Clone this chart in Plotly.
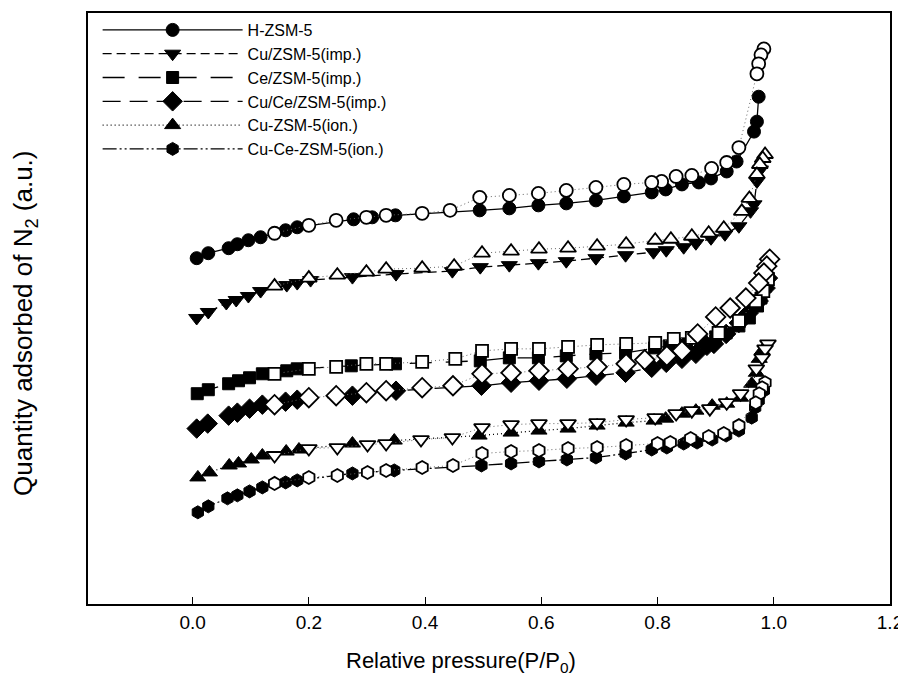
import plotly.graph_objects as go

# ---- data (relative pressure, quantity adsorbed in a.u.) ----
names = ["H-ZSM-5", "Cu/ZSM-5(imp.)", "Ce/ZSM-5(imp.)", "Cu/Ce/ZSM-5(imp.)",
         "Cu-ZSM-5(ion.)", "Cu-Ce-ZSM-5(ion.)"]

h_ads_x = [0.007, 0.027, 0.062, 0.077, 0.096, 0.117, 0.16, 0.18, 0.277, 0.309, 0.349, 0.494, 0.545, 0.595,
           0.643, 0.694, 0.742, 0.79, 0.814, 0.842, 0.871, 0.892, 0.919, 0.936, 0.966, 0.971, 0.974]
h_ads_y = [347, 352, 357, 361, 365, 368, 375, 378, 386, 388, 390, 395, 397, 400, 402, 405, 409, 413, 416,
           421, 423, 427, 434, 444, 474, 484, 509]
h_des_x = [0.983, 0.978, 0.974, 0.971, 0.94, 0.919, 0.893, 0.859, 0.832, 0.807, 0.79, 0.742, 0.694, 0.643,
           0.595, 0.545, 0.494, 0.443, 0.395, 0.333, 0.299, 0.247, 0.2, 0.141]
h_des_y = [557, 551, 542, 532, 458, 443, 437, 430, 429, 424, 423, 421, 418, 415, 412, 410, 408, 395, 392,
           390, 388, 385, 380, 372]

cu_ads_x = [0.007, 0.027, 0.058, 0.075, 0.096, 0.117, 0.162, 0.18, 0.203, 0.275, 0.35, 0.447, 0.495, 0.545,
            0.595, 0.643, 0.694, 0.745, 0.793, 0.815, 0.845, 0.866, 0.892, 0.916, 0.94, 0.96, 0.966, 0.971, 0.977]
cu_ads_y = [287, 293, 302, 305, 309, 314, 320, 322, 325, 328, 331, 334, 338, 340, 342, 344, 347, 350, 353,
            355, 358, 362, 367, 371, 379, 394, 401, 424, 436]
cu_des_x = [0.985, 0.981, 0.976, 0.971, 0.958, 0.945, 0.914, 0.888, 0.859, 0.823, 0.796, 0.746, 0.696, 0.646,
            0.596, 0.548, 0.498, 0.45, 0.395, 0.333, 0.299, 0.249, 0.2, 0.141]
cu_des_y = [451, 447, 441, 431, 407, 394, 377, 372, 369, 366, 365, 361, 359, 357, 356, 354, 352, 339, 337,
            336, 333, 330, 327, 319]

ce_ads_x = [0.008, 0.027, 0.062, 0.079, 0.098, 0.12, 0.162, 0.18, 0.273, 0.349, 0.495, 0.545, 0.595, 0.643,
            0.694, 0.745, 0.795, 0.82, 0.85, 0.875, 0.9, 0.918, 0.94, 0.958, 0.972, 0.978, 0.986]
ce_ads_y = [211, 215, 221, 224, 227, 231, 234, 236, 239, 241, 244, 247, 247, 249, 251, 252, 257, 259, 261,
            264, 268, 272, 279, 287, 299, 307, 319]
ce_des_x = [0.99, 0.982, 0.969, 0.94, 0.905, 0.859, 0.828, 0.796, 0.746, 0.696, 0.646, 0.596, 0.548, 0.498,
            0.452, 0.395, 0.333, 0.299, 0.247, 0.2, 0.141]
ce_des_y = [326, 314, 304, 284, 272, 267, 266, 262, 261, 260, 258, 256, 256, 254, 246, 243, 241, 241, 238,
            236, 231]

cuce_ads_x = [0.007, 0.026, 0.062, 0.077, 0.098, 0.12, 0.16, 0.18, 0.275, 0.35, 0.497, 0.548, 0.596, 0.644,
              0.694, 0.745, 0.79, 0.815, 0.842, 0.866, 0.885, 0.897, 0.918, 0.94, 0.957, 0.974, 0.986, 0.99]
cuce_ads_y = [176, 181, 189, 192, 196, 200, 203, 205, 209, 214, 219, 222, 224, 226, 229, 232, 237, 242, 246,
              251, 259, 261, 271, 282, 292, 304, 317, 327]
cuce_des_x = [0.993, 0.988, 0.983, 0.974, 0.952, 0.925, 0.9, 0.869, 0.842, 0.816, 0.778, 0.746, 0.696, 0.646,
              0.596, 0.548, 0.498, 0.448, 0.395, 0.333, 0.299, 0.247, 0.2, 0.141]
cuce_des_y = [346, 339, 332, 322, 307, 297, 288, 271, 254, 249, 245, 241, 238, 236, 234, 232, 231, 219, 217,
              214, 212, 209, 207, 200]

cuion_ads_x = [0.009, 0.029, 0.063, 0.079, 0.101, 0.12, 0.161, 0.183, 0.275, 0.347, 0.493, 0.548, 0.596, 0.646,
               0.696, 0.746, 0.794, 0.814, 0.842, 0.866, 0.894, 0.919, 0.943, 0.962, 0.97, 0.975, 0.98]
cuion_ads_y = [127, 132, 139, 141, 145, 149, 153, 155, 161, 164, 169, 172, 174, 176, 179, 182, 184, 186, 191,
               194, 199, 201, 207, 221, 232, 246, 254]
cuion_des_x = [0.99, 0.985, 0.98, 0.97, 0.943, 0.919, 0.89, 0.859, 0.832, 0.796, 0.746, 0.696, 0.646, 0.596,
               0.548, 0.498, 0.447, 0.393, 0.333, 0.301, 0.249, 0.2, 0.141]
cuion_des_y = [261, 256, 247, 236, 211, 202, 196, 194, 191, 187, 185, 182, 181, 181, 180, 177, 167, 165, 161,
               160, 157, 156, 149]

cuceion_ads_x = [0.009, 0.027, 0.06, 0.077, 0.098, 0.12, 0.16, 0.18, 0.275, 0.347, 0.497, 0.548, 0.596, 0.644,
                 0.694, 0.745, 0.79, 0.816, 0.845, 0.868, 0.894, 0.918, 0.94, 0.962, 0.968, 0.974, 0.983]
cuceion_ads_y = [92, 98, 106, 109, 113, 117, 122, 124, 131, 134, 139, 141, 143, 145, 147, 151, 155, 157, 161,
                 162, 165, 169, 174, 187, 197, 204, 214]
cuceion_des_x = [0.985, 0.98, 0.975, 0.969, 0.94, 0.914, 0.888, 0.857, 0.822, 0.8, 0.746, 0.696, 0.646, 0.596,
                 0.548, 0.498, 0.448, 0.395, 0.333, 0.301, 0.249, 0.2, 0.141]
cuceion_des_y = [222, 217, 211, 202, 179, 171, 168, 166, 162, 161, 159, 157, 156, 154, 153, 151, 139, 137, 134,
                 132, 129, 127, 121]

x_ticks = [0.0, 0.2, 0.4, 0.6, 0.8, 1.0, 1.2]
x_title = "Relative pressure(P/P<sub>0</sub>)"
y_title = "Quantity adsorbed of N<sub>2</sub> (a.u.)"

series = [
    (names[0], h_ads_x, h_ads_y, h_des_x, h_des_y, "circle", "circle", "solid"),
    (names[1], cu_ads_x, cu_ads_y, cu_des_x, cu_des_y, "triangle-down", "triangle-up", "9px,5px"),
    (names[2], ce_ads_x, ce_ads_y, ce_des_x, ce_des_y, "square", "square", "22px,14px"),
    (names[3], cuce_ads_x, cuce_ads_y, cuce_des_x, cuce_des_y, "diamond", "diamond", "18px,9px"),
    (names[4], cuion_ads_x, cuion_ads_y, cuion_des_x, cuion_des_y, "triangle-up", "triangle-down", "1px,3px"),
    (names[5], cuceion_ads_x, cuceion_ads_y, cuceion_des_x, cuceion_des_y, "hexagon", "hexagon",
     "14px,3px,2px,3px,2px,3px"),
]

sizes = {"circle": 13, "triangle-down": 14, "triangle-up": 14, "square": 12, "diamond": 15, "hexagon": 13}

fig = go.Figure()
for name, ax, ay, dx, dy, sym_a, sym_d, dash in series:
    fig.add_trace(go.Scatter(
        x=ax, y=ay, name=name, mode="lines+markers",
        line=dict(color="black", width=1.3, dash=dash),
        marker=dict(symbol=sym_a, size=sizes[sym_a], color="black", line=dict(color="black", width=1)),
    ))
for name, ax, ay, dx, dy, sym_a, sym_d, dash in series:
    fig.add_trace(go.Scatter(
        x=dx, y=dy, name=name + " desorption", mode="lines+markers", showlegend=False,
        line=dict(color="#666666", width=1, dash="1px,3px"),
        marker=dict(symbol=sym_d, size=sizes[sym_d], color="white", line=dict(color="black", width=1.8)),
    ))

fig.update_layout(
    width=898, height=671,
    margin=dict(l=80, r=16, t=3, b=75),
    paper_bgcolor="white", plot_bgcolor="white",
    font=dict(family="Liberation Sans, Arial, sans-serif", color="black", size=17),
    showlegend=True,
    legend=dict(x=0.012, y=1.0, xanchor="left", yanchor="top", bgcolor="rgba(0,0,0,0)",
                font=dict(size=16), itemwidth=140, tracegroupgap=0),
    xaxis=dict(range=[-0.18, 1.2], tickvals=x_ticks, ticktext=[f"{v:.1f}" for v in x_ticks],
               ticks="inside", ticklen=7, tickwidth=1, tickcolor="black", ticklabelstandoff=0,
               showline=True, linecolor="black", linewidth=1.5, mirror=True, showgrid=False, zeroline=False,
               tickfont=dict(size=19)),
    yaxis=dict(range=[0, 593], showticklabels=False, ticks="",
               showline=True, linecolor="black", linewidth=1.5, mirror=True, showgrid=False, zeroline=False),
    annotations=[
        dict(text=x_title, xref="paper", yref="paper", x=0.465, y=-0.098, xanchor="center", yanchor="middle",
             showarrow=False, font=dict(size=22)),
        dict(text=y_title, xref="paper", yref="paper", x=-0.079, y=0.475, xanchor="center", yanchor="middle",
             textangle=-90, showarrow=False, font=dict(size=26)),
    ],
)

fig.write_html("out.html")
